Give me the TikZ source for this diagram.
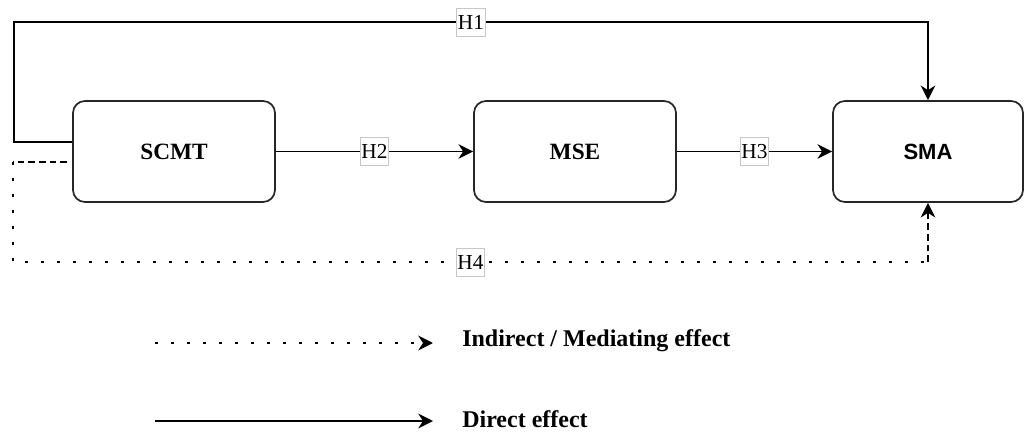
\documentclass[tikz,border=0pt]{standalone}
\usepackage{fontspec}
\setmainfont{Liberation Serif}
\newfontfamily\smafont{Liberation Sans}
\usepackage{tikz}
\usetikzlibrary{arrows.meta}
\tikzstyle{var} = [rectangle, rounded corners=9pt, minimum width=151.5pt, minimum height=75.75pt, text centered, draw=black!85, line width=1.3pt, font=\rmfamily\bfseries\fontsize{17.5}{20}\selectfont]
\tikzstyle{hyp} = [rectangle, solid, draw=black!22, fill=white, line width=0.6pt, inner xsep=1pt, inner ysep=0pt, minimum height=21pt, font=\rmfamily\fontsize{16}{18}\selectfont]
\tikzstyle{arrow} = [line width=1.3pt,->,>={Stealth[length=11pt,width=11pt,inset=3.5pt]}]
\tikzstyle{dots} = [line width=2.2pt, dash pattern=on 2.2pt off 9.8pt]
\tikzstyle{dashes} = [line width=1.3pt, dash pattern=on 5pt off 3pt]
\tikzstyle{legend} = [anchor=west, inner sep=0pt, font=\rmfamily\bfseries\fontsize{18}{21}\selectfont]

\begin{document}
\begin{tikzpicture}[x=0.75pt, y=-0.75pt, node distance=300.75pt]
\useasboundingbox (0,0) rectangle (1025,432);
% variables
\node (scmt) [var] at (174,151.5) {SCMT};
\node (mse) [var, right of=scmt] {MSE};
\node (sma) [var, right of=mse, xshift=-36pt, minimum width=142.5pt, font=\smafont\bfseries\fontsize{16.5}{20}\selectfont] {SMA};
% hypotheses
\coordinate (h1a) at (14,141.7);
\coordinate (h1b) at (14,22);
\coordinate (h4a) at (13,161.7);
\coordinate (h4b) at (13,262);
\draw [arrow] (scmt.west |- h1a) -- (h1a) -- (h1b) -- node [hyp] {H1} (sma.north |- h1b) -- (sma.north);
\draw [arrow] (scmt) -- node [hyp] {H2} (mse);
\draw [arrow] (mse) -- node [hyp] {H3} (sma);
\draw [dashes, shorten <=3.75pt] (scmt.west |- h4a) -- (h4a);
\draw [dots] (h4a) -- (h4b) -- node [hyp] {H4} (sma.south |- h4b);
\draw [arrow, dashes] (sma.south |- h4b) -- (sma.south);
% legend
\node (indlbl) [legend] at (462,341) {Indirect / Mediating effect};
\node (dirlbl) [legend] at (462,419) {Direct effect};
\coordinate (indtail) at (155,343);
\coordinate (dirtail) at (155,421);
\draw [arrow, dots, shorten >=21.75pt] (indtail) -- (indlbl.west |- indtail);
\draw [arrow, shorten >=21.75pt] (dirtail) -- (dirlbl.west |- dirtail);
\end{tikzpicture}
\end{document}
